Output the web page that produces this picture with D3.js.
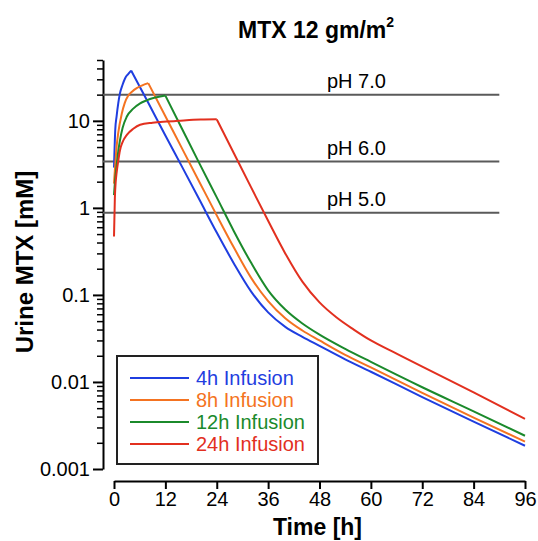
<!DOCTYPE html>
<html>
<head>
<meta charset="utf-8">
<script src="https://cdn.jsdelivr.net/npm/d3@7"></script>
<style>
  html, body { margin: 0; padding: 0; background: #fff; }
  svg { display: block; font-family: "Liberation Sans", Arial, sans-serif; }
</style>
</head>
<body>
<svg id="chart" width="538" height="541"></svg>
<script>
// ---------- data ----------
const seriesNames = ["4h Infusion", "8h Infusion", "12h Infusion", "24h Infusion"];
const infusionHours = [4, 8, 12, 24];
const seriesColors = ["#1f3ee0", "#f47321", "#1b8a2b", "#e2301f"];

const blueTimes = [0, 0.3, 0.6, 1, 1.4, 2, 2.6, 3.3, 4, 8, 12, 16, 20, 24, 28, 32, 36, 40, 44, 48, 54, 60, 72, 84, 96];
const blueValues = [2.9, 8, 11.2, 16, 20.8, 26, 30.9, 34.5, 37.8, 16.1, 6.8, 2.9, 1.23, 0.52, 0.23, 0.11, 0.063, 0.043, 0.033, 0.026, 0.0182, 0.0131, 0.0067, 0.0035, 0.00185];

const orangeTimes = [0, 0.3, 0.6, 1, 1.8, 2.5, 3.3, 4.2, 5.3, 6.5, 8, 12, 16, 20, 24, 28, 32, 36, 40, 44, 48, 54, 60, 72, 84, 96];
const orangeValues = [1.9, 3.2, 5.0, 7.3, 12, 16, 19.4, 21.6, 23.7, 25.4, 27.1, 11.3, 4.7, 1.96, 0.82, 0.35, 0.158, 0.085, 0.054, 0.039, 0.030, 0.0205, 0.0147, 0.0075, 0.0039, 0.00206];

const greenTimes = [0, 0.3, 0.6, 1, 1.4, 2, 3, 4.5, 6.1, 7.5, 9.2, 10.5, 12, 16, 20, 24, 28, 32, 36, 40, 44, 48, 54, 60, 72, 84, 96];
const greenValues = [1.4, 2.2, 3.0, 4.5, 6.0, 8.3, 11.2, 13.8, 15.9, 17.1, 18.3, 18.9, 19.5, 7.9, 3.2, 1.32, 0.54, 0.235, 0.113, 0.068, 0.047, 0.035, 0.024, 0.0170, 0.0087, 0.0046, 0.00241];

const redTimes = [0, 0.2, 0.4, 0.6, 1, 1.4, 2, 3, 4.5, 6.1, 9, 12.3, 15, 18.5, 21, 24, 28, 32, 36, 40, 44, 48, 52, 56, 60, 66, 72, 84, 96];
const redValues = [0.47, 1.3, 2.0, 2.5, 3.5, 4.6, 5.7, 6.9, 8.1, 9.0, 9.5, 9.8, 10.0, 10.3, 10.35, 10.4, 4.24, 1.73, 0.71, 0.30, 0.142, 0.082, 0.055, 0.040, 0.030, 0.0212, 0.0150, 0.0076, 0.00376];

const phLabels = ["pH 7.0", "pH 6.0", "pH 5.0"];
const phValues = [20, 3.4, 0.88];
const phEndHour = 90;

const xTicks = [0, 12, 24, 36, 48, 60, 72, 84, 96];
const yMajorTicks = [0.001, 0.01, 0.1, 1, 10];
const yTickLabels = ["0.001", "0.01", "0.1", "1", "10"];

const titleText = "MTX 12 gm/m";
const titleSup = "2";
const xTitle = "Time [h]";
const yTitle = "Urine MTX [mM]";

// ---------- scales ----------
const svg = d3.select("#chart");
const x = d3.scaleLinear().domain([0, 96]).range([114, 525]);
const y = d3.scaleLog().domain([0.001, 50]).range([469, 60]);
const yAxisX = 103;
const xAxisY = 481;

// minor ticks
const yMinorTicks = [];
[0.001, 0.01, 0.1, 1, 10].forEach(d => {
  for (let k = 2; k <= 9; k++) { const v = d * k; if (v <= 50.0001) yMinorTicks.push(+v.toPrecision(3)); }
});

// ---------- title ----------
const title = svg.append("text")
  .attr("x", 238).attr("y", 38)
  .attr("font-size", 23).attr("font-weight", "bold").attr("fill", "#000");
title.append("tspan").text(titleText);
title.append("tspan").attr("font-size", 14).attr("dy", -11).text(titleSup);

// ---------- y axis ----------
const yAxisMajor = d3.axisLeft(y).tickValues(yMajorTicks).tickSize(10).tickSizeOuter(0)
  .tickFormat((d, i) => yTickLabels[i]).tickPadding(3);
const gy = svg.append("g").attr("transform", `translate(${yAxisX},0)`).call(yAxisMajor);
gy.selectAll("text").attr("font-size", 20).attr("font-family", "Liberation Sans, Arial, sans-serif").attr("fill", "#000");
gy.selectAll("line, path").attr("stroke", "#000").attr("stroke-width", 2);

const yAxisMinor = d3.axisLeft(y).tickValues(yMinorTicks).tickSize(6).tickSizeOuter(0).tickFormat("");
const gym = svg.append("g").attr("transform", `translate(${yAxisX},0)`).call(yAxisMinor);
gym.select(".domain").remove();
gym.selectAll("line").attr("stroke", "#000").attr("stroke-width", 1.5);

// ---------- x axis ----------
const xAxis = d3.axisBottom(x).tickValues(xTicks).tickSize(8).tickSizeOuter(0).tickPadding(3);
const gx = svg.append("g").attr("transform", `translate(0,${xAxisY})`).call(xAxis);
gx.selectAll("text").attr("font-size", 20).attr("font-family", "Liberation Sans, Arial, sans-serif").attr("fill", "#000");
gx.selectAll("line, path").attr("stroke", "#000").attr("stroke-width", 2);

// axis titles
svg.append("text").attr("x", x(48) - 2).attr("y", 535)
  .attr("text-anchor", "middle").attr("font-size", 23).attr("font-weight", "bold").text(xTitle);
svg.append("text").attr("transform", "translate(33,262) rotate(-90)")
  .attr("text-anchor", "middle").attr("font-size", 24).attr("font-weight", "bold").text(yTitle);

// ---------- pH lines ----------
phValues.forEach((v, i) => {
  svg.append("line")
    .attr("x1", yAxisX).attr("x2", x(phEndHour))
    .attr("y1", y(v)).attr("y2", y(v))
    .attr("stroke", "#5a5a5a").attr("stroke-width", 2);
  svg.append("text").attr("x", 327).attr("y", y(v) - 7)
    .attr("font-size", 20).attr("fill", "#000").text(phLabels[i]);
});

// ---------- curves ----------
const allTimes = [blueTimes, orangeTimes, greenTimes, redTimes];
const allValues = [blueValues, orangeValues, greenValues, redValues];
const line = d3.line().x(d => x(d[0])).y(d => y(d[1])).curve(d3.curveMonotoneX);

allTimes.forEach((times, s) => {
  const pts = times.map((t, i) => [t, allValues[s][i]]);
  const inf = infusionHours[s];
  const rise = pts.filter(p => p[0] <= inf);
  const fall = pts.filter(p => p[0] >= inf);
  [rise, fall].forEach(seg => {
    svg.append("path").datum(seg).attr("d", line)
      .attr("fill", "none").attr("stroke", seriesColors[s])
      .attr("stroke-width", 2).attr("stroke-linejoin", "round");
  });
});

// ---------- legend ----------
const lg = svg.append("g");
lg.append("rect").attr("x", 117).attr("y", 356).attr("width", 201).attr("height", 108)
  .attr("fill", "#fff").attr("stroke", "#222").attr("stroke-width", 2);
seriesNames.forEach((name, i) => {
  const yy = 378 + i * 22;
  lg.append("line").attr("x1", 130).attr("x2", 189).attr("y1", yy).attr("y2", yy)
    .attr("stroke", seriesColors[i]).attr("stroke-width", 2);
  lg.append("text").attr("x", 196).attr("y", yy + 7)
    .attr("font-size", 20).attr("fill", seriesColors[i]).text(name);
});
</script>
</body>
</html>
